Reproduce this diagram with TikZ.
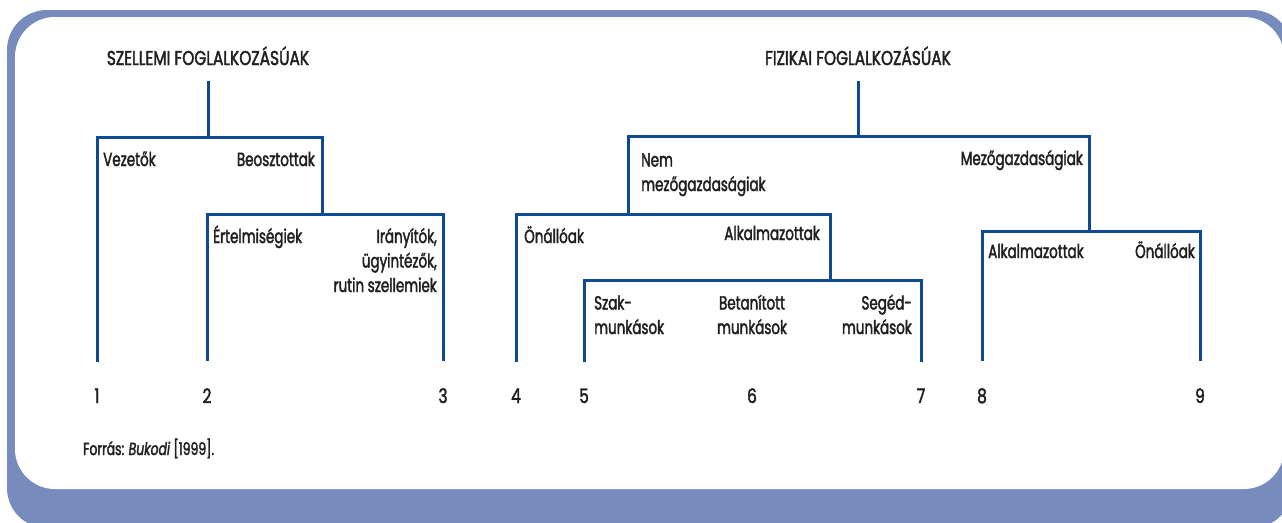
\documentclass[tikz,border=0pt]{standalone}
\usepackage{fontspec}
\setmainfont{Poppins}[FakeStretch=0.71,FakeBold=2]
\newfontfamily\titlefont{Poppins}[FakeStretch=0.77,FakeBold=2]
\definecolor{framecol}{RGB}{119,140,188}
\definecolor{linecol}{RGB}{14,74,148}
\definecolor{textcol}{RGB}{35,31,32}
\begin{document}
\begin{tikzpicture}[x=1pt,y=-1pt,
	every node/.style={inner sep=0pt,text=textcol,font=\fontsize{19}{24.5}\selectfont},
	branch/.style={draw=linecol,line width=3pt},
	title/.style={anchor=base,text depth=0pt,outer ysep=16pt,font=\titlefont\fontsize{20}{24}\selectfont},
	num/.style={anchor=base,outer ysep=27pt,font=\titlefont\fontsize{20}{24}\selectfont}]
	\useasboundingbox (0,0) rectangle (1282,522);
	\clip (0,0) rectangle (1282,522);
	\fill[framecol,rounded corners=40pt] (7,10) rectangle (1292,528);
	\fill[white,rounded corners=40pt] (15,17) rectangle (1284,489);

	\node[title] (szell) at (208,65) {SZELLEMI FOGLALKOZÁSÚAK};
	\node[title] (fiz) at (858,65) {FIZIKAI FOGLALKOZÁSÚAK};

	\node[anchor=base west] (vez) at (103,166) {Vezetők};
	\node[anchor=base east] (beo) at (315,166) {Beosztottak};
	\node[anchor=base west] (ert) at (213,243) {Értelmiségiek};
	\node[anchor=base east,align=right] (iray) at (437,292) {Irányítók,\\ügyintézők,\\rutin szellemiek};

	\node[anchor=base west,align=left] (nem) at (641,191) {Nem\\mezőgazdaságiak};
	\node[anchor=base east] (mez) at (1083,165) {Mezőgazdaságiak};
	\node[anchor=base west] (onl) at (524,243) {Önállóak};
	\node[anchor=base east] (alk) at (820,240) {Alkalmazottak};
	\node[anchor=base west,align=left] (szak) at (594,334) {Szak-\\munkások};
	\node[anchor=base,align=center] (bet) at (752,334) {Betanított\\munkások};
	\node[anchor=base east,align=right] (seg) at (912,334) {Segéd-\\munkások};
	\node[anchor=base west] (alk2) at (988,258) {Alkalmazottak};
	\node[anchor=base east] (onl2) at (1195,258) {Önállóak};

	\foreach \n/\x in {1/97,2/207,3/443,4/516,5/584,6/752,7/921,8/982,9/1200}
		\node[num] (l\n) at (\x,403) {\n};

	\node[anchor=base west,font=\fontsize{17.5}{20}\selectfont] (forr) at (83,455) {Forrás: \textit{Bukodi} [1999].};

	\coordinate (jb) at (322,137);
	\coordinate (jbe) at (322,214);
	\draw[branch] (szell.south) -- (szell.south |- jb);
	\draw[branch] (l1.north) |- (jb) -- (jbe);
	\draw[branch] (l2.north) |- (jbe) -| (l3.north);

	\coordinate (jm) at (1089,136);
	\coordinate (jm2) at (1089,231);
	\coordinate (jn) at (628,214);
	\coordinate (ja) at (830,280);
	\draw[branch] (fiz.south) -- (fiz.south |- jm);
	\draw[branch] (jn) |- (jm) -- (jm2);
	\draw[branch] (l4.north) |- (jn) -| (ja);
	\draw[branch] (l5.north) |- (ja) -| (l7.north);
	\draw[branch] (l8.north) |- (jm2) -| (l9.north);
\end{tikzpicture}
\end{document}
